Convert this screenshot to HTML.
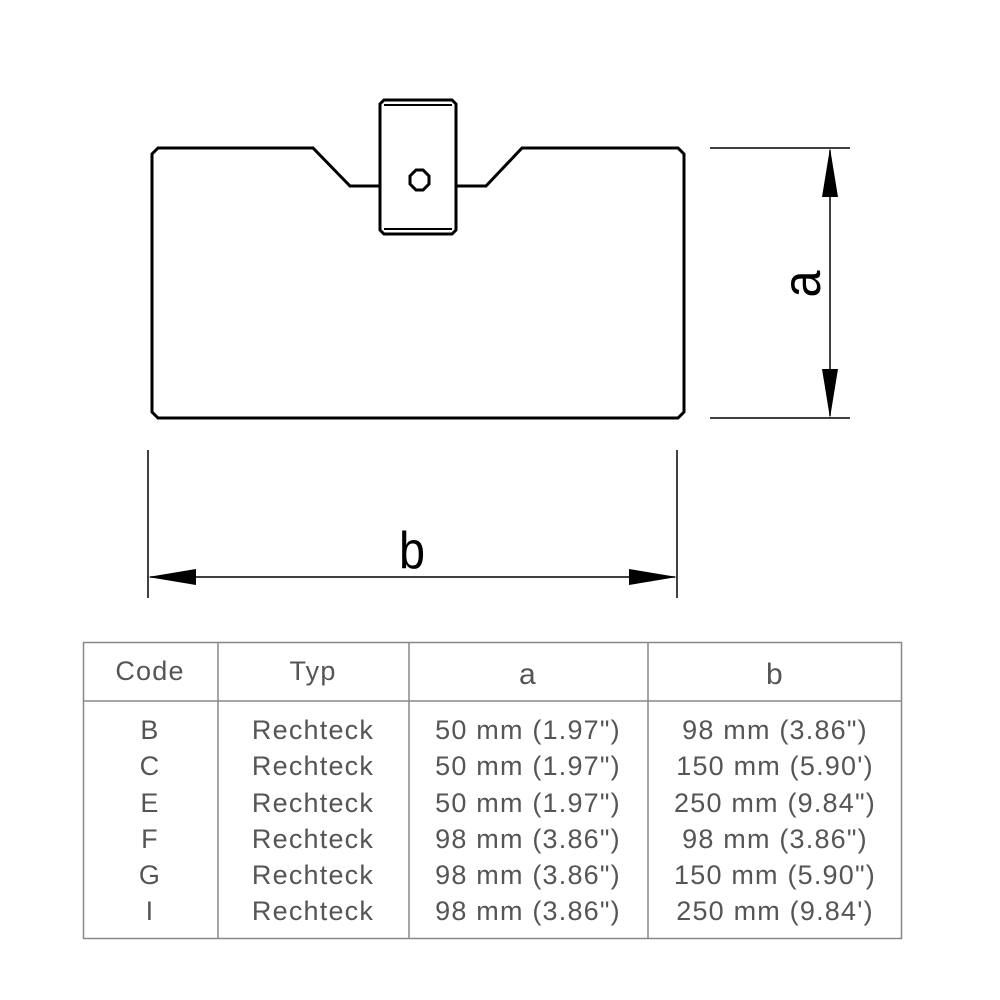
<!DOCTYPE html>
<html><head><style>
body{margin:0;background:#fff;width:1000px;height:1000px;overflow:hidden}
svg{position:absolute;left:0;top:0}
</style></head><body>
<svg width="1000" height="1000" viewBox="0 0 1000 1000">
<g fill="none" stroke="#000" stroke-width="3" stroke-linejoin="miter">
<path d="M380,186 L350,186 L313,148 L158,148 L152,154 L152,412 L158,418 L678,418 L684,412 L684,154 L678,148 L522,148 L486,186 L456,186"/>
<path d="M384,100 L452,100 L456,104 L456,230 L452,234 L384,234 L380,230 L380,104 Z"/>
<line x1="384" y1="105" x2="452" y2="105" stroke-width="2"/>
<line x1="384" y1="229" x2="452" y2="229" stroke-width="2"/>
<polygon points="416,170 423,170 429,176 429,184 423,190 416,190 410,184 410,176"/>
</g>
<g stroke="#000" stroke-width="1.5">
<line x1="710" y1="148" x2="850" y2="148"/>
<line x1="710" y1="418" x2="850" y2="418"/>
<line x1="830" y1="150" x2="830" y2="416"/>
<line x1="148" y1="450" x2="148" y2="598"/>
<line x1="677" y1="450" x2="677" y2="598"/>
<line x1="150" y1="577" x2="675" y2="577"/>
</g>
<g fill="#000">
<polygon points="830,148 822,197 838,197"/>
<polygon points="830,418 822,369 838,369"/>
<polygon points="148,577 196,569 196,585"/>
<polygon points="677,577 629,569 629,585"/>
</g>
<text x="0" y="0" font-family="Liberation Sans, sans-serif" font-size="54" transform="translate(820,284) rotate(-90) scale(0.9,1)" text-anchor="middle" fill="#000">a</text>
<text x="0" y="0" font-family="Liberation Sans, sans-serif" font-size="52" transform="translate(412,568) scale(0.9,1)" text-anchor="middle" fill="#000">b</text>
<g stroke="#888" stroke-width="1.5" fill="none">
<rect x="83.5" y="642.5" width="818" height="296"/>
<line x1="83" y1="701" x2="902" y2="701"/>
<line x1="218" y1="642" x2="218" y2="938"/>
<line x1="409" y1="642" x2="409" y2="938"/>
<line x1="648" y1="642" x2="648" y2="938"/>
</g>
<g font-family="Liberation Sans, sans-serif" font-size="27" fill="#555" text-anchor="middle" letter-spacing="1.2">
<text x="150" y="680">Code</text><text x="313" y="680">Typ</text><text x="528" y="684" font-size="30">a</text><text x="775" y="684" font-size="30">b</text>
<text x="150" y="739">B</text><text x="313" y="739">Rechteck</text><text x="528" y="739">50 mm (1.97")</text><text x="775" y="739">98 mm (3.86")</text>
<text x="150" y="775">C</text><text x="313" y="775">Rechteck</text><text x="528" y="775">50 mm (1.97")</text><text x="775" y="775">150 mm (5.90')</text>
<text x="150" y="812">E</text><text x="313" y="812">Rechteck</text><text x="528" y="812">50 mm (1.97")</text><text x="775" y="812">250 mm (9.84")</text>
<text x="150" y="848">F</text><text x="313" y="848">Rechteck</text><text x="528" y="848">98 mm (3.86")</text><text x="775" y="848">98 mm (3.86")</text>
<text x="150" y="884">G</text><text x="313" y="884">Rechteck</text><text x="528" y="884">98 mm (3.86")</text><text x="775" y="884">150 mm (5.90")</text>
<text x="150" y="920">I</text><text x="313" y="920">Rechteck</text><text x="528" y="920">98 mm (3.86")</text><text x="775" y="920">250 mm (9.84')</text>
</g>
</svg>
</body></html>
